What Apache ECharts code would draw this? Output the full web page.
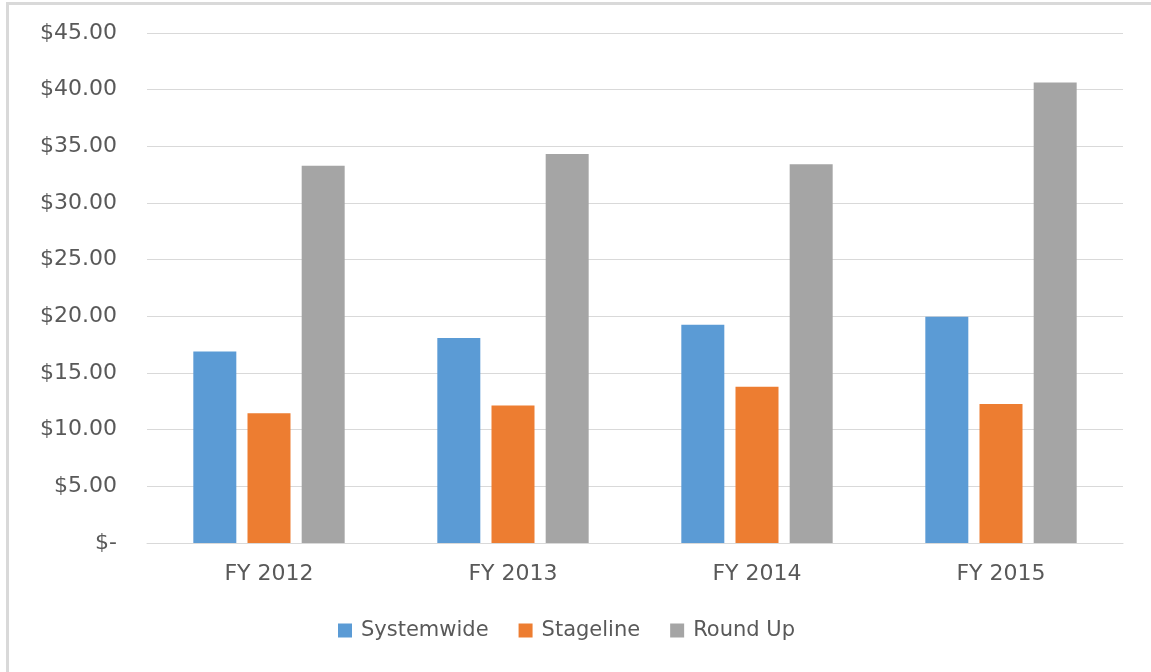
<!DOCTYPE html>
<html>
<head>
<meta charset="utf-8">
<script src="https://cdn.jsdelivr.net/npm/echarts@6/dist/echarts.min.js"></script>
<style>
  html, body { margin: 0; padding: 0; background: #fff; }
  #frame { position: absolute; left: 6px; top: 2px; width: 1160px; height: 690px; border: 3px solid #d9d9d9; box-sizing: border-box; }
  #chart { position: absolute; left: 0; top: 0; width: 1151px; height: 672px; }
</style>
</head>
<body>
<div id="frame"></div>
<div id="chart"></div>
<script>
const categories = ['FY 2012', 'FY 2013', 'FY 2014', 'FY 2015'];
const systemwide = [16.90, 18.09, 19.26, 19.97];
const stageline  = [11.44, 12.14, 13.79, 12.26];
const roundUp    = [33.29, 34.32, 33.41, 40.64];
const seriesNames = ['Systemwide', 'Stageline', 'Round Up'];
const yMin = 0, yMax = 45, yStep = 5;

const chart = echarts.init(document.getElementById('chart'), null, { renderer: 'canvas' });
const textColor = '#595959';
const font = 'DejaVu Sans';
const colors = ['#5B9BD5', '#ED7D31', '#A5A5A5'];

function mkSeries(name, data, i) {
  return {
    name: name,
    type: 'bar',
    data: data,
    barWidth: 43,
    barGap: '26%',
    itemStyle: { color: colors[i] },
    emphasis: { disabled: true }
  };
}

chart.setOption({
  animation: false,
  backgroundColor: 'transparent',
  grid: { left: 147, right: 28, top: 33, bottom: 129, containLabel: false },
  legend: {
    bottom: 26,
    left: 333,
    itemWidth: 14,
    itemHeight: 14,
    itemGap: 30,
    icon: 'rect',
    textStyle: { color: textColor, fontFamily: font, fontSize: 21, padding: [0, 0, 0, 4] },
    data: seriesNames
  },
  xAxis: {
    type: 'category',
    data: categories,
    axisLine: { show: true, lineStyle: { color: '#d9d9d9', width: 1 } },
    axisTick: { show: false },
    axisLabel: { color: textColor, fontFamily: font, fontSize: 22, margin: 20 }
  },
  yAxis: {
    type: 'value',
    min: yMin,
    max: yMax,
    interval: yStep,
    axisLine: { show: false },
    axisTick: { show: false },
    splitLine: { lineStyle: { color: '#d9d9d9', width: 1 } },
    axisLabel: {
      color: textColor, fontFamily: font, fontSize: 22, margin: 30,
      padding: [4, 0, 0, 0],
      formatter: v => v === 0 ? '$-' : '$' + v.toFixed(2)
    }
  },
  series: [
    mkSeries(seriesNames[0], systemwide, 0),
    mkSeries(seriesNames[1], stageline, 1),
    mkSeries(seriesNames[2], roundUp, 2)
  ]
});
</script>
</body>
</html>
